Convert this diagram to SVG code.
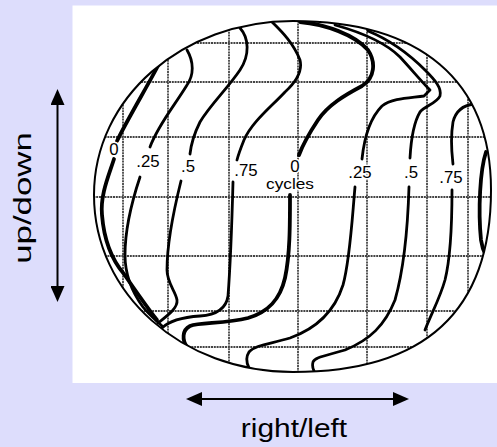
<svg xmlns="http://www.w3.org/2000/svg" width="497" height="447" viewBox="0 0 497 447">
<style>
.grid line{stroke:#444;stroke-width:1.8;stroke-dasharray:2 0.8}
.cv path{fill:none;stroke:#000;stroke-width:2.8;stroke-linecap:round;stroke-linejoin:round}
.cv path.thick{stroke-width:3.8}
.lbl{font-family:"Liberation Sans",Arial,sans-serif;font-size:16px;fill:#000;stroke:#fff;stroke-width:3;paint-order:stroke;text-anchor:middle}
.big{font-family:"Liberation Sans",Arial,sans-serif;font-size:24px;fill:#000;text-anchor:middle}
.arrow{stroke:#000;stroke-width:2;fill:none}
</style>
<defs>
<clipPath id="disk"><path d="M293,21 C420,21 491,80 491,190 C491,312 425,372 293,372 C182,372 94,294 94,195 C94,98 182,21 293,21 Z"/></clipPath>
<marker id="ah" markerUnits="userSpaceOnUse" markerWidth="16" markerHeight="14" viewBox="0 0 16 14" refX="6" refY="7" orient="auto-start-reverse"><path d="M0,0 L16,7 L0,14 Z" fill="#000"/></marker>
</defs>
<rect id="background" x="0" y="0" width="497" height="447" fill="#DDDDFC"/>
<rect id="panel" x="72.5" y="5.5" width="424.5" height="377.5" fill="#fff"/>
<g id="grid" class="grid" clip-path="url(#disk)">
<line x1="85" y1="43" x2="497" y2="43"/>
<line x1="85" y1="82" x2="497" y2="82"/>
<line x1="85" y1="137" x2="497" y2="137"/>
<line x1="85" y1="197" x2="497" y2="197"/>
<line x1="85" y1="256" x2="497" y2="256"/>
<line x1="85" y1="311" x2="497" y2="311"/>
<line x1="85" y1="347" x2="497" y2="347"/>
<line x1="123" y1="15" x2="123" y2="380"/>
<line x1="168" y1="15" x2="168" y2="380"/>
<line x1="229" y1="15" x2="229" y2="380"/>
<line x1="298" y1="15" x2="298" y2="380"/>
<line x1="367" y1="15" x2="367" y2="380"/>
<line x1="427" y1="15" x2="427" y2="380"/>
<line x1="468" y1="15" x2="468" y2="380"/>
</g>
<g id="curves" class="cv" clip-path="url(#disk)">
<path class="thick" d="M161,60 C150,82 128,118 117,141"/>
<path class="thick" d="M114,159 C109,175 100,195 102,215 C104,240 112,260 124,274 C135,290 146,306 157,320"/>
<path d="M187,50 C194,62 194,75 187,85 C175,105 158,125 150,147"/>
<path d="M140,177 C134,195 125,225 125,255 C125,275 132,292 143,307 C150,316 156,320 162,326"/>
<path d="M240,28 C249,38 250,55 240,70 C228,88 210,105 200,122 C194,134 191,145 190,154"/>
<path d="M181,181 C175,205 167,240 167,270 C167,283 176,292 177,300 C178,308 168,315 158,323"/>
<path d="M272,22 C280,30 293,42 300,60 C303,72 296,82 285,92 C270,108 252,122 244,140 C240,150 238,156 237,160"/>
<path d="M233,182 C232,220 230,270 228,296 C226,310 215,315 200,316 C185,317 170,320 162,328"/>
<path class="thick" d="M300,22 C325,24 355,35 368,50 C376,62 375,78 362,86 C345,95 328,105 318,120 C308,135 302,147 299,155"/>
<path class="thick" d="M290,195 C290,225 290,255 285,278 C280,300 268,312 248,318 C225,324 200,322 190,326 C182,330 182,340 187,347"/>
<path d="M335,25 C360,32 385,42 400,57 C412,70 422,82 430,90 L424,96 C410,98 392,98 382,106 C370,118 364,140 362,159"/>
<path d="M355,187 C352,220 350,260 343,285 C335,310 318,328 290,338 C270,344 255,345 249,352 C245,358 247,364 249,368"/>
<path d="M368,31 C390,40 410,55 425,70 C435,80 442,88 440,96 C437,103 425,106 420,112 C414,122 411,140 410,158"/>
<path d="M409,187 C408,220 405,265 395,300 C385,325 370,340 345,350 C325,356 315,357 313,362 C312,366 313,369 314,371"/>
<path d="M474,104 C465,105 456,110 453,122 C450,140 452,155 453,164"/>
<path d="M452,190 C452,220 450,260 445,280 C440,298 432,312 425,330"/>
<path class="thick" d="M486,152 C480,170 478,210 481,240 C482,248 484,252 486,256"/>
</g>
<path id="outline" d="M293,21 C420,21 491,80 491,190 C491,312 425,372 293,372 C182,372 94,294 94,195 C94,98 182,21 293,21 Z" fill="none" stroke="#000" stroke-width="2"/>
<g id="labels">
<text class="lbl" transform="translate(114,155) scale(1.05,1)">0</text>
<text class="lbl" transform="translate(148,167) scale(1.05,1)">.25</text>
<text class="lbl" transform="translate(188,172) scale(1.05,1)">.5</text>
<text class="lbl" transform="translate(246,176) scale(1.05,1)">.75</text>
<text class="lbl" transform="translate(295,172) scale(1.05,1)">0</text>
<text class="lbl" transform="translate(290,189) scale(1.15,1)" style="font-size:15px">cycles</text>
<text class="lbl" transform="translate(360,178) scale(1.05,1)">.25</text>
<text class="lbl" transform="translate(411,178) scale(1.05,1)">.5</text>
<text class="lbl" transform="translate(451,183) scale(1.05,1)">.75</text>
</g>
<g id="connectors">
<line id="updown-arrow" class="arrow" x1="57.5" y1="99" x2="57.5" y2="292" marker-start="url(#ah)" marker-end="url(#ah)"/>
<line id="rightleft-arrow" class="arrow" x1="196" y1="399" x2="399" y2="399" marker-start="url(#ah)" marker-end="url(#ah)"/>
</g>
<g id="axis-labels">
<text class="big" transform="translate(31,198) rotate(-90) scale(1.45,1)">up/down</text>
<text class="big" transform="translate(294,437) scale(1.15,1)" style="font-size:26px">right/left</text>
</g>
</svg>
